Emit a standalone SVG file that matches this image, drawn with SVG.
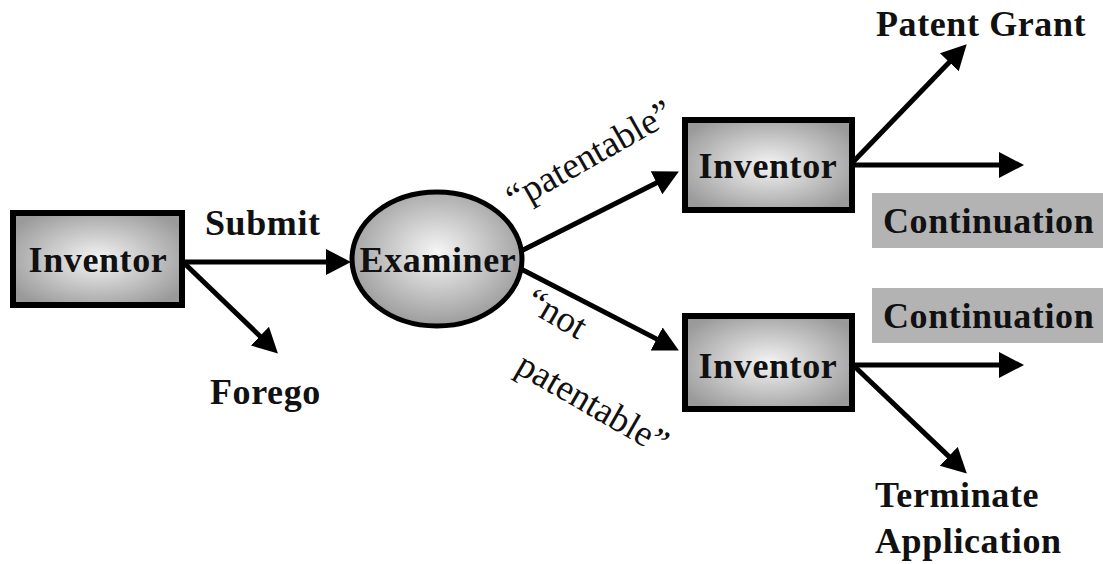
<svg xmlns="http://www.w3.org/2000/svg" width="1103" height="564" viewBox="0 0 1103 564">
  <defs>
    <radialGradient id="boxFill" cx="50%" cy="50%" r="60%">
      <stop offset="0" stop-color="#f4f4f4"/>
      <stop offset="1" stop-color="#9a9a9a"/>
    </radialGradient>
    <radialGradient id="ovalFill" cx="50%" cy="45%" r="55%">
      <stop offset="0" stop-color="#f6f6f6"/>
      <stop offset="1" stop-color="#9c9c9c"/>
    </radialGradient>
    <marker id="head" markerUnits="userSpaceOnUse" markerWidth="26" markerHeight="28" refX="3" refY="13" orient="auto">
      <path d="M0,0 L25,13 L0,26 z" fill="#000"/>
    </marker>
  </defs>
  <style>
    .node { fill: url(#boxFill); stroke: #000; stroke-width: 6; }
    .oval { fill: url(#ovalFill); stroke: #000; stroke-width: 5; }
    .tag { fill: #b3b3b3; }
    .lbl { font-family: "Liberation Serif", "Times New Roman", serif; font-weight: bold; font-size: 36px; letter-spacing: 0.6px; fill: #111; }
    .mid { text-anchor: middle; }
    .quote { font-family: "Liberation Serif", "Times New Roman", serif; font-size: 37px; fill: #111; }
    .edge { stroke: #000; stroke-width: 5; fill: none; marker-end: url(#head); }
  </style>

  <g id="connectors">
    <line class="edge" x1="183" y1="262" x2="329" y2="262"/>
    <line class="edge" x1="183" y1="262" x2="262.1" y2="338.2"/>
    <line class="edge" x1="521" y1="251" x2="659.2" y2="181.4"/>
    <line class="edge" x1="521" y1="269" x2="659.3" y2="340.4"/>
    <line class="edge" x1="853" y1="162" x2="951.4" y2="60.1"/>
    <line class="edge" x1="853" y1="165" x2="1002" y2="165"/>
    <line class="edge" x1="853" y1="365" x2="1002" y2="365"/>
    <line class="edge" x1="853" y1="365" x2="950.9" y2="458.4"/>
  </g>

  <g id="inventor-start">
    <rect class="node" x="13" y="213" width="169" height="92"/>
    <text class="lbl mid" x="98" y="272">Inventor</text>
  </g>

  <g id="examiner">
    <ellipse class="oval" cx="437" cy="259" rx="85" ry="67"/>
    <text class="lbl mid" x="438" y="272">Examiner</text>
  </g>

  <g id="inventor-granted">
    <rect class="node" x="685" y="120" width="167" height="90"/>
    <text class="lbl mid" x="768" y="178">Inventor</text>
  </g>

  <g id="inventor-rejected">
    <rect class="node" x="685" y="316" width="167" height="93"/>
    <text class="lbl mid" x="768" y="378">Inventor</text>
  </g>

  <g id="continuation-upper">
    <rect class="tag" x="872" y="193" width="231" height="55"/>
    <text class="lbl" x="883" y="233">Continuation</text>
  </g>

  <g id="continuation-lower">
    <rect class="tag" x="872" y="288" width="231" height="55"/>
    <text class="lbl" x="883" y="328">Continuation</text>
  </g>

  <g id="labels">
    <text class="lbl" x="205" y="235">Submit</text>
    <text class="lbl" x="210" y="404">Forego</text>
    <text class="lbl" x="876" y="36">Patent Grant</text>
    <text class="lbl" x="875" y="507">Terminate</text>
    <text class="lbl" x="875" y="553">Application</text>
    <text class="quote" transform="translate(515,211) rotate(-29.5)">“patentable”</text>
    <g transform="translate(523,308) rotate(30)">
      <text class="quote" x="0" y="0">“not</text>
      <text class="quote" x="24" y="60">patentable”</text>
    </g>
  </g>
</svg>
